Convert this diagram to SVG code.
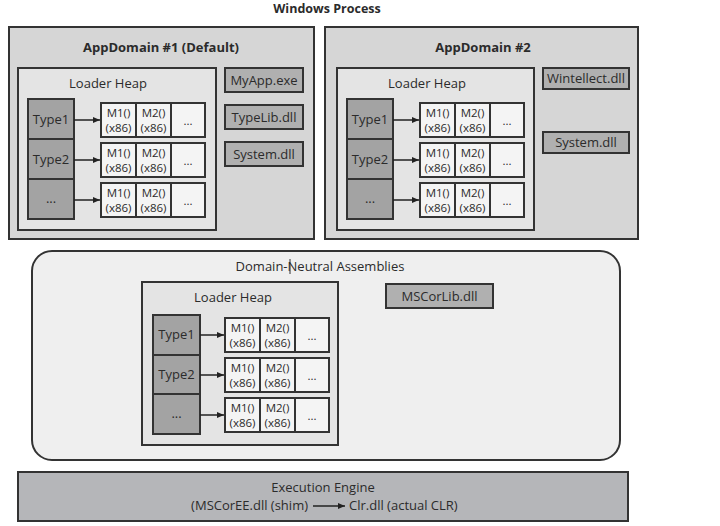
<svg xmlns="http://www.w3.org/2000/svg" width="720" height="526" viewBox="0 0 720 526">
<style>
text{font-family:"Open Sans","Noto Sans","DejaVu Sans",sans-serif;fill:#2b2b2b;text-anchor:middle}
.t{font-size:13px}
.tb{font-size:13px;font-weight:bold}
.m{font-size:11.5px}
.ad{fill:#d6d6d6;stroke:#333;stroke-width:2}
.heap{fill:#e4e4e4;stroke:#333;stroke-width:2}
.type{fill:#a3a3a3;stroke:#333;stroke-width:2}
.meth{fill:#f4f4f4;stroke:#333;stroke-width:2}
.dll{fill:#b0b0b0;stroke:#333;stroke-width:2}
.dn{fill:#efefef;stroke:#333;stroke-width:2}
.ee{fill:#b5b6b9;stroke:#333;stroke-width:2}
.c{stroke:#222;stroke-width:1.5;fill:none;marker-end:url(#ah)}
</style>
<defs>
<marker id="ah" markerWidth="8" markerHeight="8" refX="7" refY="4" orient="auto" markerUnits="userSpaceOnUse">
<path d="M0,1 L7,4 L0,7 z" fill="#222"/>
</marker>
<g id="mrow">
<rect class="meth" x="0" y="0" width="104" height="34"/>
<line x1="35" y1="0" x2="35" y2="34" stroke="#333" stroke-width="2"/>
<line x1="70" y1="0" x2="70" y2="34" stroke="#333" stroke-width="2"/>
<text class="m" x="17.5" y="14">M1()</text>
<text class="m" x="17.5" y="29">(x86)</text>
<text class="m" x="52.5" y="14">M2()</text>
<text class="m" x="52.5" y="29">(x86)</text>
<text class="m" x="87" y="22">...</text>
</g>
</defs>
<rect width="720" height="526" fill="#fff"/>
<text class="tb" x="327" y="13" style="font-size:12.5px">Windows Process</text>

<g id="appdomain1">
<rect class="ad" x="9" y="27" width="305" height="212"/>
<text class="tb" x="161" y="52">AppDomain #1 (Default)</text>
</g>
<g id="heap1" transform="translate(18,68)">
<rect class="heap" x="0" y="0" width="198" height="162"/>
<text class="t" x="90" y="20">Loader Heap</text>
<rect class="type" x="10" y="31" width="46" height="40"/>
<rect class="type" x="10" y="71" width="46" height="40"/>
<rect class="type" x="10" y="111" width="46" height="40"/>
<text class="t" x="33" y="56">Type1</text>
<text class="t" x="33" y="96">Type2</text>
<text class="t" x="33" y="135">...</text>
<use href="#mrow" x="83" y="35"/>
<use href="#mrow" x="83" y="75"/>
<use href="#mrow" x="83" y="115"/>
</g>
<g id="myapp"><rect class="dll" x="225" y="68" width="78" height="24"/><text class="t" x="264" y="85">MyApp.exe</text></g>
<g id="typelib"><rect class="dll" x="225" y="105" width="78" height="24"/><text class="t" x="264" y="122">TypeLib.dll</text></g>
<g id="system1"><rect class="dll" x="225" y="142" width="78" height="24"/><text class="t" x="264" y="159">System.dll</text></g>

<g id="appdomain2">
<rect class="ad" x="325" y="27" width="313" height="212"/>
<text class="tb" x="483" y="52">AppDomain #2</text>
</g>
<g id="heap2" transform="translate(337,68)">
<rect class="heap" x="0" y="0" width="197" height="162"/>
<text class="t" x="90" y="20">Loader Heap</text>
<rect class="type" x="10" y="31" width="46" height="40"/>
<rect class="type" x="10" y="71" width="46" height="40"/>
<rect class="type" x="10" y="111" width="46" height="40"/>
<text class="t" x="33" y="56">Type1</text>
<text class="t" x="33" y="96">Type2</text>
<text class="t" x="33" y="135">...</text>
<use href="#mrow" x="83" y="35"/>
<use href="#mrow" x="83" y="75"/>
<use href="#mrow" x="83" y="115"/>
</g>
<g id="wintellect"><rect class="dll" x="543" y="68" width="86" height="21"/><text class="t" x="586" y="83">Wintellect.dll</text></g>
<g id="system2"><rect class="dll" x="543" y="132" width="86" height="21"/><text class="t" x="586" y="147">System.dll</text></g>

<g id="domainneutral">
<rect class="dn" x="32" y="251" width="588" height="209" rx="20" ry="20"/>
<text class="t" x="320" y="271">Domain-Neutral Assemblies</text>
<line x1="290" y1="259" x2="290" y2="274" stroke="#333" stroke-width="1"/>
</g>
<g id="heap3" transform="translate(142,282)">
<rect class="heap" x="0" y="0" width="196" height="163"/>
<text class="t" x="91" y="20">Loader Heap</text>
<rect class="type" x="11" y="33" width="47" height="40"/>
<rect class="type" x="11" y="73" width="47" height="39"/>
<rect class="type" x="11" y="112" width="47" height="40"/>
<text class="t" x="34.5" y="57">Type1</text>
<text class="t" x="34.5" y="97">Type2</text>
<text class="t" x="34.5" y="136">...</text>
<use href="#mrow" x="83" y="36"/>
<use href="#mrow" x="83" y="76"/>
<use href="#mrow" x="83" y="116"/>
</g>
<g id="mscorlib"><rect class="dll" x="386" y="284" width="107" height="24"/><text class="t" x="439.5" y="301">MSCorLib.dll</text></g>

<g id="executionengine">
<rect class="ee" x="18" y="472" width="610" height="49"/>
<text class="t" x="323" y="492">Execution Engine</text>
<text class="t" x="308" y="510" style="text-anchor:end">(MSCorEE.dll (shim)</text>
<text class="t" x="349" y="510" style="text-anchor:start">Clr.dll (actual CLR)</text>
</g>

<g id="connectors">
<path class="c" d="M74,120 H100"/>
<path class="c" d="M74,160 H100"/>
<path class="c" d="M74,200 H100"/>
<path class="c" d="M393,120 H419"/>
<path class="c" d="M393,160 H419"/>
<path class="c" d="M393,200 H419"/>
<path class="c" d="M200,335 H224"/>
<path class="c" d="M200,375 H224"/>
<path class="c" d="M200,415 H224"/>
<path class="c" d="M313,506 H345"/>
</g>
</svg>
